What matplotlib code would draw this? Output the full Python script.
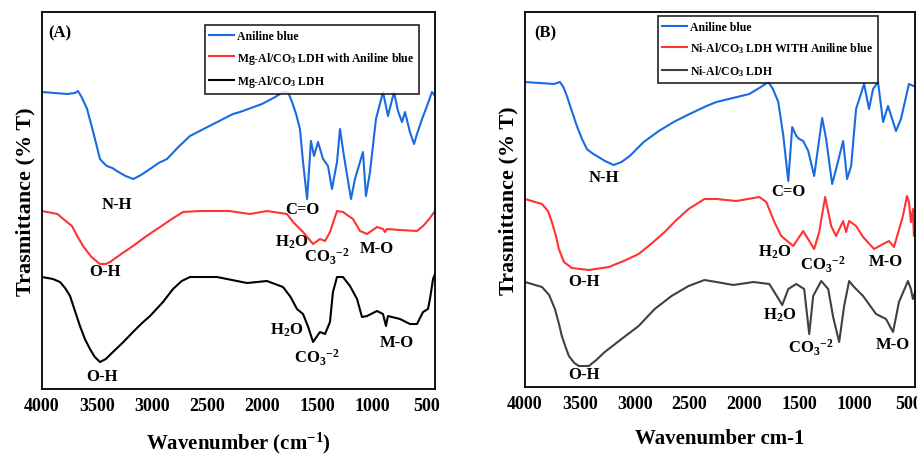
import numpy as np
import matplotlib
matplotlib.use("Agg")
import matplotlib.pyplot as plt

plt.rcParams['font.family'] = ['Liberation Serif', 'DejaVu Serif']
plt.rcParams['font.weight'] = 'bold'
plt.rcParams['mathtext.fontset'] = 'custom'
plt.rcParams['mathtext.rm'] = 'Liberation Serif:bold'
plt.rcParams['mathtext.bf'] = 'Liberation Serif:bold'
plt.rcParams['mathtext.it'] = 'Liberation Serif:bold'
plt.rcParams['mathtext.default'] = 'bf'

# ---- panel A data (wavenumber, arbitrary transmittance) ----
wnA_blue = [4000, 3773, 3700, 3673, 3640, 3590, 3530, 3473, 3440, 3410, 3360, 3320, 3240,
            3170, 3100, 3018, 2940, 2864, 2760, 2655, 2460, 2264, 2200,
            2000, 1880, 1809, 1760, 1727, 1690, 1655, 1627, 1590, 1555, 1527, 1491, 1445,
            1400, 1364, 1318, 1291, 1255, 1191, 1155, 1109, 1082, 1055, 1018, 964, 900,
            855, 800, 764, 727, 700, 655, 618, 591, 545, 500, 455, 427]
tA_blue = [297, 295, 296, 298, 292, 280, 255, 230, 226, 223, 221, 218, 213,
           210, 214, 220, 226, 230, 242, 253, 264, 275, 277,
           285, 292, 297, 296, 287, 275, 260, 227, 190, 248, 233, 247, 230,
           223, 200, 227, 260, 233, 190, 210, 227, 237, 193, 217, 270, 297,
           273, 297, 278, 267, 277, 257, 245, 255, 270, 283, 297, 293]

wnA_red = [4000, 3860, 3773, 3727, 3680, 3627, 3550, 3473, 3420, 3382, 3280, 3173, 3050,
           2927, 2820, 2718, 2564, 2300, 2110, 1955, 1773,
           1718, 1627, 1536, 1473, 1427, 1382, 1318, 1264, 1173, 1109, 1045, 955, 900,
           882, 864, 745, 591, 536, 480, 427]
tA_red = [178, 175, 167, 163, 153, 143, 132, 125, 125, 127, 135, 143, 153,
          162, 170, 177, 178, 178, 175, 178, 175,
          167, 157, 145, 150, 148, 157, 178, 177, 170, 158, 155, 162, 160,
          157, 160, 159, 158, 163, 170, 178]

wnA_black = [4000, 3900, 3836, 3790, 3745, 3700, 3655, 3610, 3564, 3520, 3473, 3420, 3355,
             3260, 3173, 3090, 3018, 2900, 2809, 2730, 2655, 2409,
             2136, 1955, 1809, 1740, 1682, 1627, 1580, 1536, 1473, 1427, 1382, 1355, 1318,
             1264, 1200, 1136, 1091, 1045, 955, 900, 873, 855, 745, 655, 591, 536, 491,
             473, 445, 427]
tA_black = [112, 110, 107, 101, 93, 78, 63, 50, 40, 32, 27, 30, 37,
            47, 57, 66, 73, 87, 100, 108, 112, 112,
            106, 108, 102, 92, 80, 75, 62, 47, 57, 55, 67, 97, 112,
            112, 103, 90, 72, 73, 78, 75, 63, 73, 70, 65, 65, 77, 80,
            90, 110, 115]

# ---- panel B data ----
wnB_blue = [4000, 3736, 3682, 3650, 3618, 3570, 3527, 3480, 3436, 3390, 3345, 3270, 3191,
            3120, 3045, 2918, 2780, 2645, 2500, 2345, 2255,
            1955, 1850, 1782, 1740, 1691, 1645, 1600, 1564, 1527, 1500, 1464, 1418, 1364,
            1291, 1255, 1200, 1164, 1100, 1064, 1027, 982, 909, 864, 827, 782, 736, 691,
            618, 573, 500, 436]
tB_blue = [305, 303, 305, 300, 291, 275, 261, 248, 238, 234, 231, 226, 222,
           225, 231, 245, 256, 265, 273, 281, 285,
           293, 300, 305, 298, 285, 251, 206, 260, 251, 248, 246, 236, 211,
           269, 248, 203, 218, 246, 208, 221, 278, 303, 278, 298, 305, 265, 281,
           256, 268, 303, 300]

wnB_red = [4000, 3845, 3790, 3755, 3720, 3691, 3645, 3573, 3418, 3236, 3100, 2964, 2840,
           2727, 2620, 2509, 2364, 2255,
           2073, 1864, 1800, 1727, 1664, 1555, 1464, 1364, 1318, 1264, 1209, 1164, 1100,
           1073, 1045, 982, 918, 818, 736, 682, 636, 555, 518, 500, 482, 464, 455, 436]
tB_red = [188, 183, 176, 165, 152, 138, 125, 119, 117, 120, 126, 133, 144,
          155, 167, 178, 188, 188,
          186, 190, 185, 165, 151, 141, 156, 138, 155, 190, 161, 151, 166,
          155, 166, 161, 150, 138, 143, 146, 140, 171, 191, 185, 165, 178, 151, 165]

wnB_black = [4000, 3845, 3780, 3727, 3690, 3664, 3630, 3600, 3550, 3509, 3418, 3350, 3273,
             3120, 2964, 2818, 2664, 2509, 2364,
             2255, 2100, 1918, 1773, 1727, 1655, 1600, 1527, 1455, 1409, 1373, 1300, 1236,
             1191, 1136, 1091, 1045, 1009, 918, 800, 709, 645, 591, 509, 482, 464, 436]
tB_black = [105, 100, 92, 78, 63, 51, 40, 31, 24, 21, 21, 27, 35,
            48, 61, 78, 91, 101, 107,
            105, 102, 105, 103, 95, 82, 98, 103, 98, 53, 91, 106, 98,
            70, 45, 81, 106, 101, 91, 73, 68, 55, 85, 106, 98, 88, 98]

ticks = [4000, 3500, 3000, 2500, 2000, 1500, 1000, 500]

blue = '#1a6ae0'
red = '#ff3333'

fig = plt.figure(figsize=(9.17, 4.56), dpi=100)
axA = fig.add_axes([0.0458, 0.1447, 0.4286, 0.8268])
axB = fig.add_axes([0.5725, 0.1491, 0.4253, 0.8224])

axA.plot(wnA_blue, tA_blue, color=blue, lw=1.5, label='Aniline blue')
axA.plot(wnA_red, tA_red, color=red, lw=1.5, label='Mg-Al/CO$_3$ LDH with Aniline blue')
axA.plot(wnA_black, tA_black, color='black', lw=1.5, label='Mg-Al/CO$_3$ LDH')

axB.plot(wnB_blue, tB_blue, color=blue, lw=1.5, label='Aniline blue')
axB.plot(wnB_red, tB_red, color=red, lw=1.5, label='Ni-Al/CO$_3$ LDH WITH Aniline blue')
axB.plot(wnB_black, tB_black, color='#404040', lw=1.5, label='Ni-Al/CO$_3$ LDH')

axA.set_xlim(4000, 427)
axA.set_ylim(0, 377)
axB.set_xlim(4000, 445)
axB.set_ylim(0, 375)

for ax, anchor in [(axA, (0.959, 0.965)), (axB, (0.905, 0.989))]:
    ax.set_xticks(ticks)
    ax.set_xticklabels([str(t) for t in ticks], fontsize=13, fontweight='bold')
    ax.set_yticks([])
    ax.tick_params(axis='x', length=0, pad=6)
    for s in ax.spines.values():
        s.set_linewidth(1.3)
    ax.set_ylabel('Trasmittance (% T)', fontsize=16, fontweight='bold', labelpad=5)
    leg = ax.legend(loc='upper right', bbox_to_anchor=anchor, borderaxespad=0,
                    fancybox=False, edgecolor='black', fontsize=8.5, handlelength=2.1,
                    labelspacing=0.65, borderpad=0.4, handletextpad=0.25)
    leg.get_frame().set_linewidth(1.3)

axA.set_xlabel('Wavenumber (cm$^{-1}$)', fontsize=15, fontweight='bold', labelpad=11)
axB.set_xlabel('Wavenumber cm-1', fontsize=15, fontweight='bold', labelpad=11)

fs = 12
labelsA = [('(A)', 3836, 357), ('N-H', 3318, 185), ('C=O', 1636, 180),
           ('H$_2$O', 1727, 148), ('CO$_3$$^{-2}$', 1409, 133), ('M-O', 955, 141),
           ('O-H', 3427, 118), ('H$_2$O', 1773, 60), ('CO$_3$$^{-2}$', 1500, 32),
           ('M-O', 773, 47), ('O-H', 3455, 13)]
labelsB = [('(B)', 3818, 355), ('N-H', 3282, 210), ('C=O', 1600, 196),
           ('O-H', 3464, 106), ('O-H', 3464, 13), ('H$_2$O', 1727, 136),
           ('CO$_3$$^{-2}$', 1282, 123), ('M-O', 709, 126), ('H$_2$O', 1682, 73),
           ('CO$_3$$^{-2}$', 1391, 40), ('M-O', 645, 43)]
for ax, labs in [(axA, labelsA), (axB, labelsB)]:
    for txt, x, y in labs:
        ax.text(x, y, txt, ha='center', va='center', fontsize=fs, fontweight='bold')

fig.savefig('out.png', dpi=100)
